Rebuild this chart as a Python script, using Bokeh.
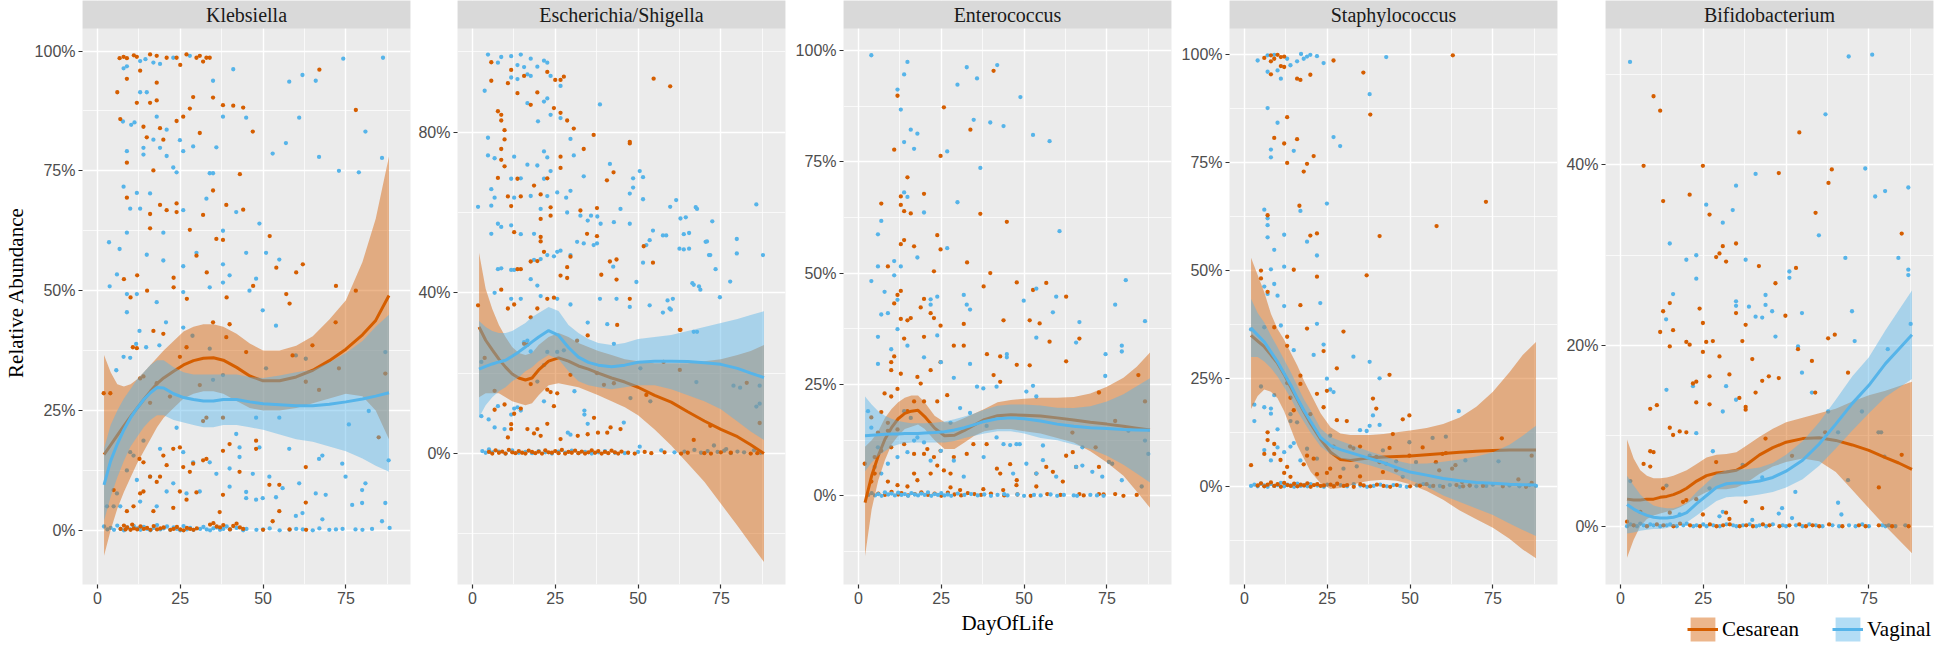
from bokeh.plotting import figure
from bokeh.layouts import row, column
from bokeh.models import (Range1d, FixedTicker, PrintfTickFormatter, Label,
                          Legend, LegendItem, BoxAnnotation)
from bokeh.embed import file_html
from bokeh.resources import INLINE

# ---------------------------------------------------------------- data
SERIES = ["Cesarean", "Vaginal"]
PANEL_NAMES = ["Klebsiella", "Escherichia/Shigella", "Enterococcus",
               "Staphylococcus", "Bifidobacterium"]
X_TICKS = [0, 25, 50, 75]

# smooth (loess) curves are read at these days
FX = [2, 4, 6, 8, 10, 12, 14, 16, 18, 20, 23, 26, 29, 32, 35, 38, 42, 46, 50,
      55, 60, 65, 70, 75, 80, 84, 88]

# ---- Klebsiella
KLEB_CES_X = [6.7,7.9,8.9,11.0,11.9,15.9,17.9,20.9,23.9,25.0,
              26.9,29.9,30.9,31.9,32.9,33.9,6.0,6.9,8.9,8.9,
              8.9,11.9,12.9,13.9,14.9,15.9,15.9,15.9,17.9,17.9,
              18.9,19.9,16.9,18.9,20.9,23.9,23.9,25.9,27.9,28.9,
              30.9,31.9,34.9,34.9,37.9,38.9,41.0,44.0,43.0,44.0,
              46.9,52.0,54.0,60.0,62.0,67.0,72.0,78.0,78.0,8.0,
              10.0,12.0,15.0,23.0,23.0,27.0,33.0,39.0,47.0,57.0,
              58.0,27.9,29.9,35.9,37.9,23.9,10.7,11.9,12.9,13.9,
              15.9,17.9,16.9,19.9,21.9,24.9,26.9,30.9,34.9,31.9,
              32.9,37.9,38.9,39.9,44.9,47.9,58.9,62.9,66.9,64.9,
              71.9,72.9,84.9,86.9,3.9,1.9,12.7,13.9,15.9,17.9,
              18.9,19.9,20.9,22.9,24.9,25.9,27.9,28.9,31.9,32.9,
              37.9,37.9,39.9,42.9,47.9,51.9,54.9,62.9,62.9,10.9,
              12.9,13.9,8.9,4.9,16.9,22.9,24.9,29.9,26.9,36.9,
              52.9,54.9]
KLEB_CES_Y = [98.5,98.8,98.5,99.1,98.8,99.3,99.0,98.6,98.6,97.1,
              99.3,98.6,99.0,97.8,98.6,98.6,91.4,85.8,94.2,76.7,
              69.4,89.2,95.9,84.2,82.0,89.2,66.0,63.0,93.4,89.7,
              83.9,81.5,75.1,67.9,66.8,68.2,85.4,86.3,88.0,90.4,
              82.9,65.8,70.9,90.3,88.7,67.9,88.6,88.2,74.3,66.9,
              83.2,61.4,54.8,53.8,55.5,96.1,51.0,50.0,87.7,52.4,
              48.6,53.2,50.0,52.7,50.7,48.3,53.8,48.6,51.0,49.3,
              47.3,62.7,57.3,60.8,60.6,66.4,38.2,38.0,31.7,32.1,
              26.6,30.7,41.6,41.0,27.9,36.2,38.2,30.3,43.4,22.8,
              23.5,23.5,40.3,43.0,37.2,18.7,36.5,31.0,29.3,38.6,
              43.4,33.8,19.4,32.7,28.6,28.6,14.9,14.2,11.2,10.1,
              11.2,15.6,13.6,17.0,17.3,13.2,12.2,13.9,14.6,14.9,
              16.6,7.4,18.0,12.2,17.0,9.5,9.5,13.2,5.8,5.0,
              7.7,8.1,4.0,8.4,4.0,4.7,8.1,7.9,6.4,3.8,
              1.9,4.0]
KLEB_CES_ZERO_X = [7,8,8.5,9,10,10.5,11,12,13,14,15,16,17,18,19,20,22,23,24,25,
                   26,27,28,29,30,34,35,36,37,38,40,41,42,43,44,50,58,63]
KLEB_CES_ZERO_Y = [0.3,1.0,0.2,0.6,0.1,1.2,0.4,0.2,0.8,0.3,0.5,0.1,0.9,0.2,0.4,
                   0.6,0.1,0.3,0.7,0.2,0.0,0.5,0.3,0.1,0.4,1.2,1.5,0.8,0.6,1.1,
                   0.2,0.9,1.4,0.6,0.3,0.1,0.2,0.1]
KLEB_VAG_X = [3.5,6.7,5.9,3.7,7.9,8.9,8.9,9.9,7.7,10.2,
              11.2,11.9,12.9,12.9,13.9,13.9,14.9,15.9,16.9,17.9,
              18.9,20.9,20.9,19.9,19.9,22.9,23.9,24.9,25.9,25.9,
              28.9,29.9,32.9,33.9,34.9,34.9,35.9,37.9,37.9,41.9,
              44.9,44.9,48.9,52.9,56.9,57.9,60.9,61.9,65.9,66.9,
              72.9,78.9,80.9,85.9,74.2,86.2,41.0,12.9,14.5,16.9,
              18.9,22.9,27.9,7.9,8.9,14.9,25.9,37.9,39.9,47.9,
              54.9,50.9,8.9,11.9,17.9,25.9,33.9,37.9,45.9,49.9,
              8.9,5.7,7.9,9.9,11.7,14.7,18.7,20.7,12.7,25.9,
              28.7,33.9,34.9,37.9,41.9,42.9,47.9,48.9,50.9,53.9,
              54.9,57.9,59.9,62.9,66.9,67.9,73.9,75.9,74.9,80.9,
              79.9,76.9,79.9,86.9,85.9,86.9,87.9,81.9,9.9,10.9,
              13.9,15.9,18.9,20.9,23.9,25.9,26.9,28.9,33.9,35.9,
              39.9,39.9,42.9,44.9,46.9,49.9,51.9,53.9,55.9,60.9,
              61.9,65.9,68.9,67.9,5.9,6.9,4.9,2.9,8.9,11.9,
              12.9,17.9,22.9,30.9,44.9,47.9,59.9,77.9,82.9,88.2]
KLEB_VAG_Y = [60.1,58.7,53.4,50.9,71.7,62.1,79.1,67.1,85.3,84.6,
              85.1,70.4,67.1,91.4,79.8,78.4,57.5,70.3,81.5,86.3,
              79.8,83.6,78.1,62.1,56.3,75.7,74.7,81.4,79.1,55.1,
              80.1,57.9,69.2,74.5,74.5,93.8,79.9,86.3,62.5,66.4,
              86.1,57.9,64.0,78.6,80.8,93.6,86.1,95.0,93.8,77.9,
              75.0,74.7,83.2,77.7,98.4,98.6,96.2,97.9,98.3,97.6,
              97.3,98.6,99.0,96.4,96.8,91.4,66.8,55.5,53.2,52.5,
              56.5,57.9,49.3,49.3,47.6,49.7,50.7,51.7,50.0,45.9,
              45.5,33.4,36.2,36.0,38.9,38.2,38.6,43.4,41.6,42.3,
              40.6,37.9,31.4,32.4,20.1,17.3,23.5,17.3,33.8,42.7,
              23.5,17.0,36.5,35.8,14.9,15.6,13.9,22.1,11.2,9.8,
              8.4,5.3,5.7,5.7,1.9,37.2,14.6,24.9,16.3,15.6,
              18.7,11.2,17.0,8.1,21.4,16.3,7.7,14.2,14.2,11.8,
              12.9,9.1,15.3,6.7,11.8,6.7,11.2,6.9,8.8,9.8,
              3.6,7.7,7.4,2.3,7.7,5.0,5.0,5.0,12.5,10.5,
              6.0,5.0,9.8,8.1,8.0,6.4,3.0,0.2,0.3,0.5]
KLEB_VAG_ZERO_X = [2,3,4,5,6,7,8,9,10,11,12,13,14,15,16,17,18,19,20,21,22,23,
                   24,25,26,27,28,29,31,32,33,34,35,36,37,38,39,40,42,44,45,48,
                   50,52,55,58,60,62,65,67,70,72,74,80]
KLEB_VAG_ZERO_Y = [0.8,0.2,0.5,0.1,1.0,0.3,0.0,0.6,0.2,0.9,0.4,0.1,0.7,0.3,0.0,
                   0.5,1.1,0.2,0.4,0.8,0.1,0.6,0.3,0.0,0.9,0.2,0.5,0.1,0.3,0.7,
                   0.2,0.0,0.4,0.6,0.1,0.3,0.8,0.2,0.5,0.0,0.3,0.1,0.2,0.4,0.0,
                   0.1,0.3,0.2,0.0,0.4,0.1,0.2,0.3,0.1]
KLEB_CES_FIT = [15.8,17.8,19.8,21.8,23.7,25.5,27.3,29.0,30.6,31.8,33.2,34.5,35.4,
                35.9,36.0,35.5,34.0,32.2,31.2,31.2,32.0,33.4,35.4,37.8,40.8,43.8,49.0]
KLEB_CES_LO = [-5.3,0.0,4.5,8.0,11.0,14.0,16.5,19.0,21.5,23.5,25.5,27.5,28.5,29.0,
               29.0,28.5,27.0,25.5,25.0,25.0,25.5,26.5,27.5,28.5,28.0,25.0,19.0]
KLEB_CES_HI = [36.6,33.0,30.5,30.0,30.5,31.5,33.0,34.5,36.0,37.5,39.5,41.5,42.5,43.0,
               43.0,42.5,41.0,39.0,37.5,37.5,38.5,40.5,44.0,48.0,56.0,65.0,78.0]
KLEB_VAG_FIT = [9.5,14.5,18.0,21.0,23.5,25.5,27.3,28.7,29.8,29.7,28.5,27.7,27.3,27.0,
                27.0,27.3,27.3,26.8,26.4,26.2,26.0,26.0,26.3,26.8,27.4,28.0,28.7]
KLEB_VAG_LO = [2.0,7.0,11.0,14.5,17.5,19.5,21.5,23.0,24.0,24.0,23.0,22.5,22.0,21.5,
               21.5,22.0,22.0,21.5,21.0,20.0,19.0,18.5,17.5,16.5,15.0,13.5,12.2]
KLEB_VAG_HI = [17.0,22.0,25.0,27.5,29.5,31.5,33.0,34.5,35.5,35.5,34.0,33.0,32.5,32.5,
               32.5,32.5,32.5,32.0,31.8,32.3,33.0,33.5,35.0,37.0,39.5,42.5,45.0]

# ---- Escherichia/Shigella
ESCH_CES_X = [5.7,5.7,10.7,11.7,13.6,15.6,17.6,19.6,22.6,25.0,
              26.6,27.6,7.7,8.7,8.7,9.7,9.7,8.7,8.7,9.7,
              7.7,10.7,11.7,13.6,14.6,18.6,20.6,22.6,20.6,23.6,
              23.6,24.6,26.6,28.6,30.6,26.6,26.6,19.6,20.6,20.6,
              21.6,12.6,13.6,14.6,17.6,26.6,28.6,28.6,29.6,34.6,
              37.6,37.6,32.6,33.6,36.6,40.6,42.6,38.9,41.5,43.5,
              43.5,51.7,54.5,47.5,47.5,54.7,59.7,1.7,8.7,10.7,
              12.6,17.6,19.6,22.6,24.6,47.5,3.7,6.7,6.7,9.7,
              10.7,11.7,11.7,12.6,14.6,15.6,16.6,17.6,16.6,18.6,
              19.6,20.6,22.6,22.6,23.6,24.6,25.6,26.6,29.6,31.6,
              31.8,34.8,34.8,36.7,37.6,37.9,39.7,40.7,41.7,42.7,
              43.7,44.7,52.5,57.7,62.6,62.6,66.8,71.8,62.8,82.8,
              86.7]
ESCH_CES_Y = [97.4,92.8,92.2,95.5,89.7,94.0,86.8,89.9,95.0,93.0,
              93.0,93.8,85.2,84.3,82.9,80.5,78.2,75.8,73.1,71.5,
              68.6,64.0,61.6,68.4,64.0,66.7,64.5,68.5,58.4,61.3,
              59.2,86.0,84.8,82.9,80.9,73.9,71.1,47.9,53.9,52.8,
              50.2,55.1,45.9,45.9,47.8,44.3,46.4,43.7,49.0,54.7,
              54.1,61.1,60.5,75.8,79.3,68.0,70.0,44.5,47.8,48.3,
              43.3,51.6,47.5,77.2,77.6,93.3,91.4,36.9,40.8,36.1,
              37.1,33.9,36.1,38.5,38.8,38.5,23.8,15.6,10.9,12.2,
              4.0,7.3,6.1,9.9,11.2,27.3,27.1,17.3,6.1,5.0,
              6.1,4.4,15.9,7.4,15.3,11.8,15.0,3.6,19.6,28.1,
              4.4,29.4,4.8,8.9,20.0,5.2,17.1,5.2,6.5,17.5,
              32.0,6.1,14.6,22.8,20.8,30.8,3.4,6.9,30.8,17.6,
              7.6]
ESCH_CES_ZERO_X = [5,6,7,8,9,10,11,12,13,14,15,16,17,18,19,20,21,22,23,24,25,26,
                   27,28,29,30,31,32,33,34,35,36,37,38,39,40,41,42,43,44,45,47,
                   49,52,54,58,63,65,70,72,75,78,84,86]
ESCH_CES_ZERO_Y = [0.4,0.0,0.8,0.2,0.5,0.0,0.9,0.3,0.1,0.6,0.2,0.0,0.7,0.4,0.1,
                   0.5,0.0,0.8,0.3,0.2,0.6,0.1,0.9,0.0,0.4,0.2,0.7,0.1,0.5,0.0,
                   0.3,0.8,0.2,0.6,0.0,0.4,0.1,0.7,0.3,0.0,0.5,0.2,0.0,0.4,0.1,
                   0.3,0.0,0.2,0.1,0.0,0.3,0.2,0.0,0.1]
ESCH_VAG_X = [4.7,7.7,8.7,11.7,13.6,14.6,15.6,17.6,19.6,21.6,
              22.6,3.7,11.7,13.6,16.6,17.6,16.6,21.6,22.6,26.6,
              23.6,19.8,23.6,26.6,38.5,29.6,4.7,4.7,6.7,12.6,
              19.6,21.6,22.6,23.6,30.6,11.7,14.6,16.6,21.6,22.6,
              25.6,28.3,29.6,33.6,41.5,48.5,51.5,50.5,47.5,48.5,
              51.5,61.5,67.4,59.7,1.7,5.7,5.7,6.7,12.6,17.6,
              20.6,28.6,32.6,34.8,35.8,37.7,38.7,42.7,44.7,47.5,
              5.7,7.7,8.7,11.7,14.6,18.6,31.6,33.6,36.6,37.6,
              42.5,52.5,53.5,54.5,57.5,58.5,62.5,65.4,64.4,65.4,
              70.4,71.4,72.4,73.4,74.7,68.4,66.4,7.7,8.7,11.7,
              12.6,17.6,18.6,20.6,22.6,24.6,25.6,26.6,29.6,6.7,
              11.7,14.6,19.6,20.6,25.6,29.6,38.5,43.5,47.5,53.5,
              59.5,60.5,57.5,49.5,51.5,2.7,2.7,4.9,6.7,7.7,
              9.7,11.7,12.6,13.6,14.6,15.6,16.6,17.6,19.6,21.6,
              21.6,22.6,25.6,27.6,28.8,30.8,33.8,33.8,34.8,40.7,
              42.7,45.7,47.7,50.7,53.7,34.8,29.6,50.5,66.8,67.6,
              72.9,76.6,62.8,63.8,63.8,66.8,68.8,67.8,70.8,71.8,
              77.8,79.8,79.8,85.7,87.7,58.9,59.9,67.8,78.8,80.8,
              86.7,86.7,85.7]
ESCH_VAG_Y = [99.3,97.3,98.7,98.9,96.7,99.3,96.2,98.3,96.3,97.8,
              97.3,90.3,93.6,93.2,94.4,94.0,87.2,87.6,88.4,91.5,
              94.0,82.7,84.3,83.5,86.9,78.3,78.6,74.2,73.5,73.9,
              71.7,75.2,73.7,70.3,74.2,68.4,68.5,71.9,68.4,64.1,
              65.0,63.7,65.4,69.0,72.1,68.5,68.8,70.3,64.7,66.2,
              63.3,63.1,61.3,61.4,61.4,65.8,61.7,63.7,63.7,64.1,
              60.9,60.0,59.2,58.0,59.2,59.0,57.2,57.6,60.9,57.2,
              54.7,57.2,56.4,56.8,54.6,54.7,52.7,52.3,51.9,52.3,
              46.5,51.9,53.1,55.5,54.3,54.3,51.0,51.0,58.8,54.9,
              52.7,49.4,57.8,45.9,38.9,41.6,42.4,45.9,46.1,45.7,
              45.7,43.4,48.2,48.4,49.4,49.1,50.2,50.5,49.4,40.0,
              38.5,38.5,41.8,39.2,38.5,37.1,38.5,38.5,36.5,36.9,
              36.1,38.5,35.1,42.7,47.5,22.8,9.3,8.5,6.5,11.8,
              6.1,9.7,11.2,11.5,10.7,27.7,28.1,25.4,17.9,13.0,
              22.0,25.3,25.3,25.7,5.2,15.5,10.7,9.7,32.6,32.2,
              27.3,7.7,13.8,21.2,13.0,7.4,4.7,1.7,30.3,17.8,
              2.0,1.1,58.5,54.6,50.8,42.0,40.8,60.9,52.8,49.4,
              42.8,53.4,49.8,62.0,49.4,38.1,35.8,30.3,16.9,16.4,
              16.9,12.4,11.7]
ESCH_VAG_ZERO_X = [3,4,5,6,8,10,12,14,16,18,20,22,24,26,28,30,32,34,36,38,40,43,
                   46,50,57,61,64,67,69,71,74,76,78,80,82,85,87]
ESCH_VAG_ZERO_Y = [0.6,0.2,1.0,0.3,0.5,0.0,0.8,0.2,0.4,0.1,0.6,0.3,0.0,0.5,0.2,
                   0.7,0.1,0.4,0.0,0.3,0.6,0.2,0.1,0.4,0.8,0.3,0.5,0.9,0.2,0.6,
                   0.4,0.7,0.1,0.5,0.3,0.8,0.2]
ESCH_CES_FIT = [31.5,28.2,25.8,23.5,21.5,19.8,18.8,18.3,18.8,20.8,23.0,23.8,23.0,
                21.8,21.0,20.0,18.8,17.8,16.5,14.5,12.8,10.4,8.1,6.0,4.2,2.2,0.0]
ESCH_CES_LO = [14.0,15.0,15.0,15.0,14.0,13.0,12.5,12.0,12.5,14.5,17.0,17.5,17.0,16.5,
               15.5,14.5,13.0,11.5,9.5,6.0,2.0,-2.5,-7.0,-12.5,-18.0,-22.5,-27.0]
ESCH_CES_HI = [50.0,41.0,36.0,32.0,29.0,26.5,25.0,24.5,25.0,27.0,29.0,30.0,29.0,27.5,
               26.5,25.5,24.5,23.5,23.0,22.5,22.5,22.5,23.0,23.5,24.5,25.5,27.0]
ESCH_VAG_FIT = [21.0,21.7,22.3,22.8,23.2,24.2,25.3,26.5,27.8,29.0,30.6,29.4,26.4,
                24.0,22.7,22.0,21.6,22.0,22.7,23.0,23.0,22.9,22.6,22.2,21.2,20.0,18.9]
ESCH_VAG_LO = [9.0,12.0,14.0,15.5,16.5,18.0,19.0,20.5,21.5,23.0,24.5,23.5,20.5,18.0,
               17.0,16.5,16.0,16.5,17.0,17.0,16.0,14.5,13.0,11.0,8.0,5.5,3.4]
ESCH_VAG_HI = [33.0,31.5,30.5,30.0,30.0,30.5,31.5,32.5,34.0,35.0,36.5,35.5,32.0,30.0,
               28.5,27.5,27.0,27.5,28.5,29.0,29.5,30.5,31.5,32.5,33.5,34.5,35.4]

# ---- Enterococcus
ENT_CES_X = [40.8,11.8,25.8,33.8,10.8,24.8,14.8,19.8,12.8,6.9,
             12.8,13.8,15.8,36.8,44.8,23.8,13.8,12.8,16.8,24.8,
             32.8,8.9,22.8,39.8,37.8,47.8,56.7,52.7,62.7,12.8,
             11.8,19.8,10.8,18.8,12.8,14.8,15.8,21.8,22.8,24.8,
             19.8,13.8,10.8,9.9,9.9,12.8,7.9,9.9,6.9,3.9,
             11.8,17.8,18.8,21.8,24.8,28.8,31.8,31.8,38.8,42.8,
             43.8,47.8,51.7,51.7,54.7,57.7,66.7,62.7,72.6,84.5,
             86.5,40.8,42.8,26.8,19.8,23.8,16.8,14.8,8.9,8.9,
             11.8,5.9,6.9,4.9,1.9,3.9,4.9,9.9,13.8,16.8,
             19.8,20.8,22.8,24.8,23.8,21.8,25.8,27.8,28.8,32.7,
             34.7,38.7,41.8,42.8,45.8,47.8,53.7,56.7,58.7,61.7,
             62.7,64.7,65.7,72.6,77.5,77.5,64.6,71.6,16.8,17.8,
             8.9,11.8,14.8,27.8,30.7,37.7,43.7,47.7,53.7,66.7,
             72.6]
ENT_CES_Y = [95.4,89.8,87.2,82.2,77.7,76.3,71.5,67.8,67.2,65.6,
             65.3,63.9,63.4,63.3,61.5,58.5,57.4,56.5,56.0,55.3,
             52.4,51.5,50.4,50.0,47.0,47.9,47.8,46.2,44.7,46.0,
             45.1,44.2,43.2,42.3,39.7,39.4,39.9,41.0,39.9,38.2,
             35.7,35.3,31.3,30.0,28.2,27.4,23.0,22.3,18.8,17.6,
             24.0,26.7,25.2,28.2,30.0,33.7,33.7,38.6,31.8,31.3,
             39.4,29.4,29.3,39.4,38.7,34.6,35.3,30.2,23.2,27.1,
             21.2,27.1,25.6,22.6,21.2,21.2,21.2,19.0,16.4,14.6,
             14.9,14.2,10.1,8.7,7.2,3.2,5.0,10.9,11.6,9.4,
             9.4,10.5,8.7,10.1,6.8,5.0,5.7,5.0,8.7,9.4,
             11.6,11.6,6.1,5.0,7.1,3.5,5.0,6.5,5.4,3.2,
             9.0,9.8,6.5,6.5,16.8,0.4,14.2,10.9,5.0,3.5,
             3.2,2.4,2.1,1.9,1.3,1.5,1.3,2.4,2.1,0.4,
             0.4]
ENT_CES_ZERO_X = [6,8,10,12,13,15,17,19,21,23,25,27,29,31,33,35,37,40,44,48,52,
                  57,61,68,74,80,84]
ENT_CES_ZERO_Y = [0.5,0.2,0.9,0.3,0.6,0.1,0.4,0.8,0.2,0.5,0.0,0.7,0.3,0.1,0.6,
                  0.4,0.2,0.5,0.1,0.3,0.0,0.4,0.2,0.1,0.3,0.0,0.2]
ENT_VAG_X = [3.9,14.8,13.8,11.8,12.8,32.7,41.9,35.8,29.9,48.9,
             34.8,39.8,43.8,52.7,57.7,15.8,17.8,13.8,16.8,26.8,
             36.8,13.8,14.8,19.8,29.9,6.9,5.9,60.7,26.8,17.8,
             10.8,5.9,12.8,10.8,3.9,7.9,23.8,21.8,31.8,53.7,
             59.7,80.7,49.9,11.8,6.9,8.9,21.8,32.7,33.7,5.9,
             11.8,14.8,23.8,9.9,5.9,19.8,24.9,28.8,33.7,44.8,
             44.8,53.7,58.7,66.7,65.7,74.6,79.5,79.5,74.5,86.5,
             77.5,50.7,52.7,53.7,35.8,37.7,41.7,48.7,47.7,55.7,
             67.6,79.5,85.5,86.5,87.5,81.5,41.7,43.8,50.7,53.7,
             55.7,59.7,65.7,67.6,70.6,73.6,75.6,76.6,46.7,37.8,
             31.8,28.8,24.9,21.8,16.8,14.8,11.8,8.9,6.9,4.9,
             2.9,3.9,5.9,13.8,15.8,17.8,19.8,27.8,30.7,33.7,
             38.7,45.8]
ENT_VAG_Y = [98.9,97.4,94.6,91.2,86.7,96.2,96.7,93.7,92.3,89.5,
             84.4,83.8,83.0,81.0,79.6,82.2,81.3,79.4,77.9,77.3,
             73.6,68.1,67.1,63.6,65.9,61.7,58.7,59.4,55.6,53.5,
             52.7,51.5,51.5,49.5,48.2,45.8,44.7,44.1,45.1,46.5,
             44.7,48.4,43.8,44.0,40.7,41.0,42.9,42.9,41.8,35.7,
             37.4,33.7,36.0,32.9,29.6,31.1,30.0,26.5,29.6,31.8,
             31.1,35.5,41.2,39.0,34.4,31.8,33.7,32.4,26.9,39.2,
             42.9,23.4,24.7,22.3,24.5,24.1,24.5,11.6,11.6,11.3,
             10.9,3.5,2.1,12.4,9.4,14.6,13.1,11.6,7.2,5.0,
             8.0,4.3,6.5,6.8,5.4,4.3,7.6,7.2,5.0,8.7,
             4.3,7.9,10.1,7.9,12.4,9.8,8.7,7.2,5.0,6.5,
             19.0,15.3,10.9,19.0,17.5,13.1,12.0,16.4,19.7,18.6,
             15.7,11.4]
ENT_VAG_ZERO_X = [3,4,5,6,7,8,9,10,11,12,13,14,15,16,17,18,19,20,21,22,23,24,
                  25,26,27,28,30,32,34,36,38,40,42,44,45,48,50,53,55,58,60,62,
                  65,66,70,72,74]
ENT_VAG_ZERO_Y = [0.2,0.6,0.1,0.4,0.0,0.8,0.3,0.5,0.1,0.7,0.2,0.4,0.0,0.6,0.3,
                  0.1,0.5,0.2,0.8,0.0,0.4,0.2,0.6,0.1,0.3,0.0,0.5,0.2,0.4,0.1,
                  0.3,0.0,0.2,0.4,0.1,0.3,0.0,0.2,0.1,0.3,0.0,0.2,0.1,0.0,0.2,
                  0.1,0.0]
ENT_CES_FIT = [-1.5,4.5,9.0,12.7,15.3,17.3,18.5,19.0,19.2,17.8,15.2,13.5,13.6,14.7,
               15.9,17.1,18.0,18.2,18.1,17.9,17.5,17.0,16.5,16.1,15.6,15.2,14.8]
ENT_CES_LO = [-13.5,-3.0,3.5,8.0,11.5,13.5,15.0,15.5,16.0,15.0,12.5,10.5,10.5,12.0,
              13.5,14.5,15.0,15.0,14.5,14.0,13.0,12.0,10.0,7.5,4.5,1.0,-2.7]
ENT_CES_HI = [11.0,12.5,14.5,17.5,19.5,21.0,22.0,22.5,22.5,21.0,18.0,16.5,16.5,17.5,
              18.5,19.5,21.0,21.5,21.8,22.0,22.0,22.2,23.0,24.5,26.5,29.0,32.2]
ENT_VAG_FIT = [13.5,13.6,13.7,13.8,13.9,13.9,14.0,14.0,14.0,14.1,14.2,14.4,14.8,15.3,
               16.0,16.7,17.3,17.5,17.3,16.8,16.1,15.6,15.3,15.1,14.9,14.8,14.7]
ENT_VAG_LO = [5.5,7.5,9.0,10.0,11.0,11.5,11.8,12.0,12.0,12.0,12.0,12.0,12.3,13.0,
              13.5,14.0,14.5,14.5,14.0,13.0,12.5,11.5,10.5,9.0,7.0,5.0,3.0]
ENT_VAG_HI = [22.3,20.5,19.0,18.0,17.3,16.8,16.5,16.3,16.3,16.3,16.4,16.7,17.2,17.8,
              18.5,19.3,20.2,20.5,20.5,20.3,19.8,19.7,20.1,21.2,22.8,24.6,26.4]

# ---- Staphylococcus
STA_CES_X = [6.0,8.0,9.0,10.0,11.0,12.0,8.0,11.0,12.0,8.0,
             15.9,16.9,19.9,26.9,35.9,62.9,12.9,9.0,12.0,15.9,
             20.9,12.9,18.9,17.9,38.0,16.6,7.0,19.9,21.9,40.8,
             58.0,72.9,5.0,5.0,14.9,21.9,36.9,7.0,16.9,9.0,
             12.9,12.9,18.9,23.9,29.9,12.9,16.9,16.9,13.9,14.9,
             19.9,21.9,24.9,23.9,27.9,27.9,30.9,38.8,39.8,43.8,
             47.8,49.8,77.7,86.7,7.0,7.0,6.0,9.0,9.0,10.9,
             12.0,12.9,13.9,2.0,17.9,18.9,20.9,21.9,24.9,25.9,
             26.9,28.9,31.9,32.9,34.9,34.9,39.8,40.8,41.8,43.8,
             44.8,45.8,53.8,57.8,58.8,59.8,62.7,63.7,65.7,82.7,
             86.7,60.8,49.8]
STA_CES_Y = [99.2,99.8,99.0,99.9,99.4,99.5,98.4,97.3,97.1,95.4,
             94.4,94.1,95.3,98.6,95.8,99.8,85.5,80.7,79.4,80.4,
             76.5,74.9,74.7,72.9,86.1,65.0,62.8,58.1,58.6,58.0,
             60.3,65.9,50.0,48.2,50.2,48.6,48.9,45.1,42.0,36.9,
             34.7,32.6,36.6,31.4,35.9,24.0,25.7,23.8,20.6,17.7,
             16.8,21.5,22.2,18.4,27.4,15.4,15.2,20.4,18.1,25.9,
             15.6,16.5,11.2,7.2,12.6,10.8,7.6,9.9,7.6,6.2,
             3.2,4.6,2.3,5.0,5.2,7.2,6.5,2.9,3.2,4.2,
             9.3,2.3,9.3,8.9,9.3,2.4,6.9,5.7,3.4,9.0,
             12.2,3.8,9.1,5.7,3.8,7.6,4.2,5.0,1.1,1.7,
             0.9,7.8,7.2]
STA_CES_ZERO_X = [4,5,6,7,8,9,10,11,12,13,14,15,16,17,18,19,20,21,22,23,24,26,27,
                  28,30,31,33,35,36,38,40,42,44,46,50,53,55,57,60,64,66,68,72,78,85]
STA_CES_ZERO_Y = [0.3,0.8,0.1,0.5,1.0,0.2,0.6,0.0,0.9,0.4,0.2,0.7,0.1,0.5,0.3,
                  0.8,0.0,0.4,0.6,0.2,0.3,0.5,0.1,0.7,0.2,0.4,0.0,0.6,0.3,0.1,
                  0.5,0.2,0.0,0.4,0.1,0.3,0.6,0.2,0.0,0.4,0.1,0.3,0.2,0.1,0.0]
STA_VAG_X = [4.0,7.0,9.0,12.9,13.9,15.9,17.1,17.9,18.9,19.9,
             21.9,23.9,7.0,10.0,11.0,42.8,37.8,7.0,10.0,26.9,
             28.9,8.0,8.0,14.9,6.0,7.0,7.0,7.0,16.9,24.9,
             12.0,18.9,9.0,21.9,8.0,12.0,6.0,9.0,7.0,10.0,
             12.0,22.9,2.0,6.0,11.0,14.9,20.9,21.9,23.9,32.9,
             37.8,40.8,3.0,3.0,5.0,6.0,8.0,9.0,8.0,10.0,
             13.9,13.9,15.9,25.9,26.9,24.9,38.8,40.8,37.8,34.9,
             36.9,25.9,64.7,60.8,56.8,49.8,66.7,76.7,6.0,8.0,
             10.0,12.0,13.9,14.9,16.9,18.9,21.9,29.9,33.9,37.8,
             41.8,42.8,47.8,51.8,45.8]
STA_VAG_Y = [98.6,99.8,99.9,99.0,97.5,98.4,100.1,99.0,99.5,99.9,
             99.6,98.0,96.0,96.3,94.4,99.4,90.8,87.6,84.2,80.9,
             78.8,78.0,76.2,77.7,64.1,62.1,60.5,57.7,63.8,65.5,
             58.3,56.7,54.8,53.5,50.3,50.9,46.3,46.9,44.6,44.2,
             41.8,42.5,36.4,36.9,37.3,31.6,30.5,37.7,32.9,30.1,
             28.9,25.1,19.0,15.2,23.2,18.4,18.1,21.2,16.9,13.3,
             16.8,15.2,14.9,22.5,21.9,25.0,16.5,14.3,14.1,13.1,
             12.9,11.8,17.5,11.6,11.3,10.3,6.1,5.9,8.5,6.1,
             9.1,8.0,9.3,10.1,6.1,8.8,6.5,4.2,4.7,7.2,
             8.4,5.3,2.3,5.7,5.9]
STA_VAG_ZERO_X = [2,3,4,5,6,7,8,9,10,11,12,13,14,15,16,17,18,19,20,22,24,25,27,
                  29,31,33,35,37,39,41,43,45,47,49,52,54,56,59,62,65,68,70,73,75,
                  80,83,86,88]
STA_VAG_ZERO_Y = [0.2,0.5,0.1,0.7,0.3,0.0,0.6,0.2,0.4,0.9,0.1,0.5,0.3,0.0,0.7,
                  0.2,0.4,0.1,0.6,0.3,0.0,0.5,0.2,0.4,0.1,0.6,0.3,0.0,0.2,0.5,
                  0.1,0.4,0.2,0.0,0.3,0.6,0.1,0.2,0.4,0.0,0.3,0.1,0.2,0.5,0.3,
                  0.1,0.4,0.2]
STA_CES_FIT = [35.0,33.7,32.4,30.5,28.6,26.0,23.0,20.2,17.3,14.6,11.0,8.0,6.3,6.1,
               6.4,6.7,6.9,7.0,7.1,7.4,7.7,8.0,8.2,8.4,8.5,8.5,8.5]
STA_CES_LO = [18.0,21.0,22.5,22.0,20.5,17.5,13.5,9.5,6.5,3.5,0.8,-0.5,-0.3,0.3,
              1.0,1.4,1.6,1.4,0.6,-1.0,-3.0,-5.5,-7.5,-9.5,-12.0,-14.5,-16.5]
STA_CES_HI = [53.0,49.0,45.0,40.0,36.5,34.0,31.0,28.0,24.5,21.5,17.0,13.8,12.3,12.0,
              12.0,12.0,12.2,12.6,13.0,13.6,14.5,16.0,18.5,22.0,26.5,30.5,33.5]
STA_VAG_FIT = [36.7,35.1,33.5,31.2,28.9,26.2,23.5,20.4,17.6,15.1,11.4,9.5,8.6,7.9,
               7.2,6.5,5.6,4.4,3.4,2.7,1.9,1.4,1.0,0.8,0.6,0.5,0.4]
STA_VAG_LO = [30.0,30.0,29.0,27.5,25.5,23.0,20.5,17.5,15.0,12.5,9.3,7.5,6.6,6.0,
              5.5,4.9,4.0,2.8,1.5,0.0,-2.0,-3.5,-5.0,-6.5,-8.5,-10.0,-11.4]
STA_VAG_HI = [43.5,40.2,38.0,35.0,32.3,29.4,26.5,23.3,20.2,17.7,13.5,11.5,10.6,9.8,
              8.9,8.1,7.2,6.0,5.3,5.4,5.8,6.3,7.0,8.0,9.7,11.8,14.1]

# ---- Bifidobacterium
BIF_CES_X = [10.0,12.0,54.0,7.0,24.9,47.8,63.8,62.8,20.9,26.9,
             12.9,58.9,84.9,30.9,34.9,28.9,29.9,31.9,41.8,53.0,
             46.8,14.9,12.9,23.9,34.9,49.8,24.9,12.0,15.9,14.9,
             19.9,20.9,24.9,25.9,27.9,29.9,32.9,21.9,22.9,26.9,
             22.9,26.9,35.9,37.8,37.8,39.8,40.8,42.8,44.8,47.8,
             36.8,37.8,57.8,58.8,62.7,64.7,53.6,68.7,9.0,11.0,
             14.9,15.9,17.9,19.9,9.0,10.0,9.0,7.0,12.9,14.9,
             6.0,18.9,22.9,24.9,28.9,31.9,32.9,37.8,42.8,43.8,
             51.8,61.8,78.0,84.9,2.0,19.9]
BIF_CES_Y = [47.6,46.0,43.6,39.9,39.9,39.1,39.5,38.0,36.7,34.5,
             36.0,34.7,32.4,31.0,31.3,29.8,30.2,29.3,28.8,28.6,
             26.9,24.7,23.8,24.1,23.6,23.3,22.5,21.5,21.7,19.9,
             20.4,20.1,19.3,20.4,20.5,18.8,16.8,15.8,16.0,16.6,
             13.7,13.5,14.2,13.2,12.9,18.5,14.8,16.1,16.6,16.4,
             20.5,22.3,18.3,14.8,20.8,21.2,19.6,17.0,13.0,13.4,
             10.9,10.1,10.5,10.4,8.3,8.2,6.6,6.9,4.2,1.5,
             1.6,2.7,3.0,1.3,7.1,1.5,0.8,2.7,2.0,9.7,
             7.8,10.4,4.3,7.9,0.5,2.9]
BIF_CES_ZERO_X = [4,8,11,13,16,18,21,24,27,29,31,33,36,38,40,43,45,48,51,54,56,58,
                  60,63,67,72,74,78,82,87]
BIF_CES_ZERO_Y = [0.1,0.0,0.2,0.1,0.0,0.3,0.1,0.0,0.2,0.0,0.1,0.2,0.0,0.1,0.0,
                  0.2,0.1,0.0,0.1,0.2,0.0,0.1,0.0,0.2,0.0,0.1,0.0,0.1,0.0,0.0]
BIF_VAG_X = [2.9,68.9,76.0,61.9,40.8,34.9,73.9,76.9,79.9,86.9,
             25.9,33.9,30.9,59.9,14.9,22.9,19.9,37.8,67.9,83.9,
             86.9,86.9,51.0,51.0,22.9,15.9,34.9,34.9,38.8,43.8,
             43.8,45.8,54.8,69.9,40.8,42.8,13.8,13.9,21.9,31.9,
             34.9,30.9,22.9,27.9,36.9,46.8,53.6,54.8,57.8,62.7,
             65.7,70.7,80.7,87.6,78.7,79.7,68.7,65.7,66.7,52.8,
             48.8,47.8,51.8,3.0,13.9,17.9,26.9,29.9,30.9,39.8,
             42.8,77.9,72.9]
BIF_VAG_Y = [51.4,52.0,52.2,45.6,39.0,37.7,39.6,36.5,37.1,37.5,
             35.6,35.0,33.6,32.2,31.3,30.0,29.5,29.5,29.7,29.7,
             28.4,27.8,28.2,27.5,27.4,25.7,24.9,24.4,24.3,25.6,
             24.5,23.8,23.6,23.8,23.2,23.1,22.9,15.1,15.5,15.5,
             14.0,12.7,10.3,8.3,6.8,21.0,19.9,17.0,14.8,12.7,
             10.4,20.5,19.6,22.4,10.4,7.7,5.1,2.6,1.3,3.8,
             2.0,1.4,0.9,5.0,4.5,1.3,4.2,1.1,1.6,0.7,
             5.4,10.4,12.7]
BIF_VAG_ZERO_X = [2,3,4,5,6,7,8,9,10,12,14,15,17,19,20,22,23,25,26,28,30,32,34,35,
                  37,39,41,42,44,46,49,50,53,55,57,59,61,64,66,69,71,73,75,79,80,
                  81,83,86]
BIF_VAG_ZERO_Y = [0.0,0.2,0.1,0.0,0.3,0.1,0.0,0.2,0.1,0.0,0.1,0.2,0.0,0.1,0.3,
                  0.0,0.1,0.2,0.0,0.1,0.0,0.2,0.1,0.0,0.1,0.2,0.0,0.1,0.0,0.2,
                  0.1,0.0,0.1,0.0,0.2,0.1,0.0,0.1,0.0,0.1,0.0,0.2,0.0,0.1,0.0,
                  0.1,0.0,0.1]
BIF_CES_FIT = [3.0,2.9,2.9,3.0,3.0,3.2,3.3,3.5,3.8,4.2,5.0,5.6,5.9,6.0,6.2,6.8,7.9,
               8.7,9.3,9.7,9.8,9.5,9.0,8.4,7.6,7.0,6.3]
BIF_CES_LO = [-3.5,-1.5,0.0,0.8,1.2,1.4,1.6,1.8,2.1,2.5,3.2,3.8,4.1,4.1,4.3,4.8,5.8,
              6.6,7.1,7.5,7.2,6.0,4.0,2.0,0.0,-1.5,-3.0]
BIF_CES_HI = [9.6,7.5,6.2,5.6,5.3,5.3,5.4,5.6,5.9,6.2,6.9,7.6,7.9,8.0,8.2,8.9,9.9,
              10.8,11.5,12.0,12.5,13.0,13.8,14.5,15.0,15.5,16.0]
BIF_VAG_FIT = [2.4,1.9,1.5,1.2,1.0,0.9,0.9,1.0,1.2,1.5,2.5,3.4,4.3,4.7,4.8,4.8,5.0,
               5.4,6.1,7.3,9.1,11.3,13.6,15.6,18.0,19.6,21.2]
BIF_VAG_LO = [-0.8,-0.7,-0.5,-0.4,-0.3,-0.3,-0.2,0.0,0.2,0.4,1.2,2.0,2.8,3.2,3.3,3.3,
              3.5,3.8,4.3,5.2,6.7,8.6,10.6,12.5,14.3,15.3,16.3]
BIF_VAG_HI = [5.6,4.5,3.5,2.8,2.3,2.1,2.0,2.0,2.2,2.6,3.8,4.8,5.8,6.2,6.3,6.3,6.5,
              7.0,7.9,9.4,11.5,14.0,16.6,18.7,21.7,23.9,26.1]

# ---------------------------------------------------------------- style
ORANGE = "#D55E00"
BLUE = "#56B4E9"
PANEL_BG = "#EBEBEB"
STRIP_BG = "#D9D9D9"
BAND_ALPHA = 0.45
PT = 4.3
X_LO, X_HI = -4.5, 94.5
FRAME_W = 328
STRIP_PX = 28
PANEL_PX = 556
BOTTOM = 60
LEGEND_H = 30
LEGEND_X = 82
LEFT = [76, 44, 55, 55, 45]
RIGHT = [3, 3, 3, 3, 4]
SERIF = "Liberation Serif"
SANS = "Liberation Sans"


def joined(xs, ys, zx, zy):
    n = min(len(xs), len(ys))
    m = min(len(zx), len(zy))
    return list(xs[:n]) + list(zx[:m]), list(ys[:n]) + list(zy[:m])


PANELS = [
    dict(ces=joined(KLEB_CES_X, KLEB_CES_Y, KLEB_CES_ZERO_X, KLEB_CES_ZERO_Y),
         vag=joined(KLEB_VAG_X, KLEB_VAG_Y, KLEB_VAG_ZERO_X, KLEB_VAG_ZERO_Y),
         cfit=(KLEB_CES_FIT, KLEB_CES_LO, KLEB_CES_HI),
         vfit=(KLEB_VAG_FIT, KLEB_VAG_LO, KLEB_VAG_HI),
         ylim=(-11.3, 104.7), yt=[0, 25, 50, 75, 100], ym=[12.5, 37.5, 62.5, 87.5]),
    dict(ces=joined(ESCH_CES_X, ESCH_CES_Y, ESCH_CES_ZERO_X, ESCH_CES_ZERO_Y),
         vag=joined(ESCH_VAG_X, ESCH_VAG_Y, ESCH_VAG_ZERO_X, ESCH_VAG_ZERO_Y),
         cfit=(ESCH_CES_FIT, ESCH_CES_LO, ESCH_CES_HI),
         vfit=(ESCH_VAG_FIT, ESCH_VAG_LO, ESCH_VAG_HI),
         ylim=(-32.6, 105.8), yt=[0, 40, 80], ym=[-20, 20, 60, 100]),
    dict(ces=joined(ENT_CES_X, ENT_CES_Y, ENT_CES_ZERO_X, ENT_CES_ZERO_Y),
         vag=joined(ENT_VAG_X, ENT_VAG_Y, ENT_VAG_ZERO_X, ENT_VAG_ZERO_Y),
         cfit=(ENT_CES_FIT, ENT_CES_LO, ENT_CES_HI),
         vfit=(ENT_VAG_FIT, ENT_VAG_LO, ENT_VAG_HI),
         ylim=(-19.9, 104.9), yt=[0, 25, 50, 75, 100],
         ym=[-12.5, 12.5, 37.5, 62.5, 87.5]),
    dict(ces=joined(STA_CES_X, STA_CES_Y, STA_CES_ZERO_X, STA_CES_ZERO_Y),
         vag=joined(STA_VAG_X, STA_VAG_Y, STA_VAG_ZERO_X, STA_VAG_ZERO_Y),
         cfit=(STA_CES_FIT, STA_CES_LO, STA_CES_HI),
         vfit=(STA_VAG_FIT, STA_VAG_LO, STA_VAG_HI),
         ylim=(-22.6, 106.0), yt=[0, 25, 50, 75, 100],
         ym=[-12.5, 12.5, 37.5, 62.5, 87.5]),
    dict(ces=joined(BIF_CES_X, BIF_CES_Y, BIF_CES_ZERO_X, BIF_CES_ZERO_Y),
         vag=joined(BIF_VAG_X, BIF_VAG_Y, BIF_VAG_ZERO_X, BIF_VAG_ZERO_Y),
         cfit=(BIF_CES_FIT, BIF_CES_LO, BIF_CES_HI),
         vfit=(BIF_VAG_FIT, BIF_VAG_LO, BIF_VAG_HI),
         ylim=(-6.45, 55.1), yt=[0, 20, 40], ym=[10, 30, 50]),
]

figs = []
for i, P in enumerate(PANELS):
    y0, y1 = P["ylim"]
    ytop = y1 + STRIP_PX * (y1 - y0) / PANEL_PX
    bottom = BOTTOM if i < 4 else BOTTOM - LEGEND_H
    p = figure(frame_width=FRAME_W, frame_height=STRIP_PX + PANEL_PX,
               x_range=Range1d(X_LO, X_HI), y_range=Range1d(y0, ytop),
               output_backend="svg", toolbar_location=None, title_location=None,
               min_border_left=LEFT[i], min_border_right=RIGHT[i],
               min_border_top=0, min_border_bottom=bottom)
    p.background_fill_color = PANEL_BG
    p.border_fill_color = "white"
    p.outline_line_color = None

    xt = FixedTicker(ticks=X_TICKS, minor_ticks=[12.5, 37.5, 62.5, 87.5])
    yt = FixedTicker(ticks=P["yt"], minor_ticks=P["ym"])
    p.xaxis.ticker = xt
    p.xgrid.ticker = xt
    p.yaxis.ticker = yt
    p.ygrid.ticker = yt
    for g in (p.xgrid, p.ygrid):
        g.grid_line_color = "white"
        g.grid_line_width = 1.4
        g.minor_grid_line_color = "white"
        g.minor_grid_line_width = 0.7
    for ax in (p.xaxis, p.yaxis):
        ax.axis_line_color = None
        ax.major_tick_line_color = "#333333"
        ax.major_tick_line_width = 1.2
        ax.major_tick_out = 4
        ax.major_tick_in = 0
        ax.minor_tick_line_color = None
        ax.major_label_text_font = SANS
        ax.major_label_text_font_size = "16px"
        ax.major_label_text_color = "#4D4D4D"
        ax.major_label_standoff = 3
    p.yaxis.formatter = PrintfTickFormatter(format="%d%%")

    # points first (ggplot draws geom_point under geom_smooth)
    vx, vy = P["vag"]
    cx, cy = P["ces"]
    if i == 2:
        p.scatter(cx, cy, size=PT, fill_color=ORANGE, line_color=None)
        p.scatter(vx, vy, size=PT, fill_color=BLUE, line_color=None)
    else:
        p.scatter(vx, vy, size=PT, fill_color=BLUE, line_color=None)
        p.scatter(cx, cy, size=PT, fill_color=ORANGE, line_color=None)

    cfit, clo, chi = P["cfit"]
    vfit, vlo, vhi = P["vfit"]
    p.varea(x=FX, y1=clo, y2=chi, fill_color=ORANGE, fill_alpha=BAND_ALPHA)
    p.line(FX, cfit, line_color=ORANGE, line_width=3)
    p.varea(x=FX, y1=vlo, y2=vhi, fill_color=BLUE, fill_alpha=BAND_ALPHA)
    p.line(FX, vfit, line_color=BLUE, line_width=3)

    # facet strip
    p.add_layout(BoxAnnotation(bottom=y1, fill_color=STRIP_BG, fill_alpha=1.0,
                               line_color=None))
    p.add_layout(Label(x=(X_LO + X_HI) / 2, y=(y1 + ytop) / 2, text=PANEL_NAMES[i],
                       text_align="center", text_baseline="middle",
                       text_font=SERIF, text_font_size="20px", text_color="#1A1A1A"))

    if i == 0:
        p.yaxis.axis_label = "Relative Abundance"
        p.yaxis.axis_label_text_font = SERIF
        p.yaxis.axis_label_text_font_size = "21px"
        p.yaxis.axis_label_text_font_style = "normal"
        p.yaxis.axis_label_text_color = "black"
        p.yaxis.axis_label_standoff = 4
    if i == 2:
        p.xaxis.axis_label = "DayOfLife"
        p.xaxis.axis_label_text_font = SERIF
        p.xaxis.axis_label_text_font_size = "21px"
        p.xaxis.axis_label_text_font_style = "normal"
        p.xaxis.axis_label_text_color = "black"
        p.xaxis.axis_label_standoff = 4
    figs.append(p)

# ---- legend strip under the last panel (its own small canvas).
# The key renderers repeat panel 5's smooths but on an x range far away,
# so only their legend glyphs are seen.
leg_w = LEFT[4] + FRAME_W + RIGHT[4]
lf = figure(width=leg_w, height=LEGEND_H, x_range=Range1d(1000, 1001),
            y_range=Range1d(0, 1),
            x_axis_location=None, y_axis_location=None, toolbar_location=None,
            title_location=None, output_backend="svg", min_border=0)
lf.outline_line_color = None
lf.background_fill_color = "white"
lf.border_fill_color = "white"
lf.xgrid.visible = False
lf.ygrid.visible = False
kb = lf.varea(x=FX, y1=BIF_CES_LO, y2=BIF_CES_HI, fill_color=ORANGE,
              fill_alpha=BAND_ALPHA)
kl = lf.line(FX, BIF_CES_FIT, line_color=ORANGE, line_width=3)
vb_ = lf.varea(x=FX, y1=BIF_VAG_LO, y2=BIF_VAG_HI, fill_color=BLUE,
               fill_alpha=BAND_ALPHA)
vl_ = lf.line(FX, BIF_VAG_FIT, line_color=BLUE, line_width=3)
legend = Legend(items=[LegendItem(label=SERIES[0], renderers=[kb, kl]),
                       LegendItem(label=SERIES[1], renderers=[vb_, vl_])],
                orientation="horizontal", location=(LEGEND_X, 0),
                label_text_font=SERIF, label_text_font_size="21px",
                label_text_color="black",
                glyph_width=31, glyph_height=30, label_height=30,
                label_standoff=4, spacing=33, padding=0, margin=0,
                border_line_color=None, background_fill_alpha=0)
lf.add_layout(legend)

layout = row(*figs[:4], column(figs[4], lf))
open("out.html", "w").write(file_html(layout, INLINE, "Relative Abundance"))
